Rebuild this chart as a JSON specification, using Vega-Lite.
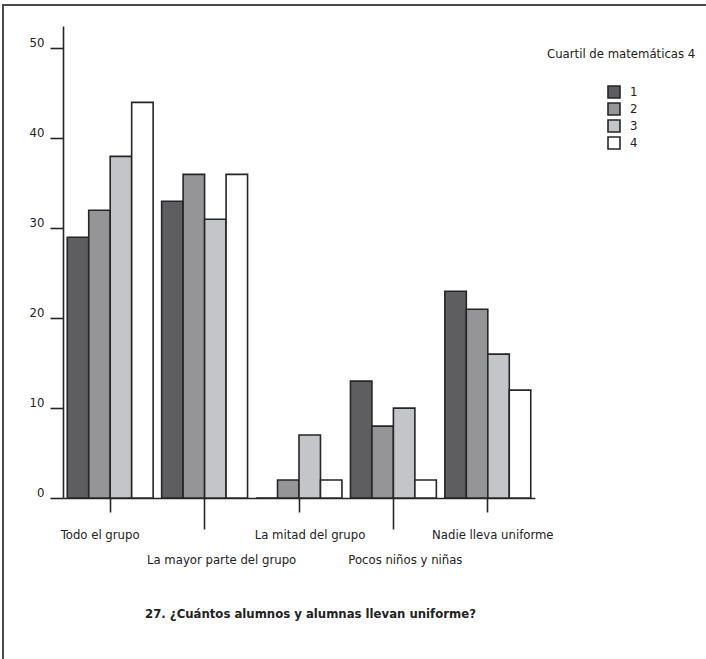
{
  "$schema": "https://vega.github.io/schema/vega-lite/v6.json",
  "width": 710,
  "height": 660,
  "autosize": {"type": "none"},
  "padding": {"left": 3, "top": 5, "right": 0, "bottom": 0},
  "background": "white",
  "config": {
    "view": {"stroke": "#4a4a4a", "strokeWidth": 2},
    "font": "DejaVu Sans Condensed, Roboto Condensed, Roboto, sans-serif"
  },
  "data": {
    "values": [
      {"grupo": "Todo el grupo", "cuartil": "1", "valor": 29},
      {"grupo": "Todo el grupo", "cuartil": "2", "valor": 32},
      {"grupo": "Todo el grupo", "cuartil": "3", "valor": 38},
      {"grupo": "Todo el grupo", "cuartil": "4", "valor": 44},
      {"grupo": "La mayor parte del grupo", "cuartil": "1", "valor": 33},
      {"grupo": "La mayor parte del grupo", "cuartil": "2", "valor": 36},
      {"grupo": "La mayor parte del grupo", "cuartil": "3", "valor": 31},
      {"grupo": "La mayor parte del grupo", "cuartil": "4", "valor": 36},
      {"grupo": "La mitad del grupo", "cuartil": "1", "valor": 0},
      {"grupo": "La mitad del grupo", "cuartil": "2", "valor": 2},
      {"grupo": "La mitad del grupo", "cuartil": "3", "valor": 7},
      {"grupo": "La mitad del grupo", "cuartil": "4", "valor": 2},
      {"grupo": "Pocos niños y niñas", "cuartil": "1", "valor": 13},
      {"grupo": "Pocos niños y niñas", "cuartil": "2", "valor": 8},
      {"grupo": "Pocos niños y niñas", "cuartil": "3", "valor": 10},
      {"grupo": "Pocos niños y niñas", "cuartil": "4", "valor": 2},
      {"grupo": "Nadie lleva uniforme", "cuartil": "1", "valor": 23},
      {"grupo": "Nadie lleva uniforme", "cuartil": "2", "valor": 21},
      {"grupo": "Nadie lleva uniforme", "cuartil": "3", "valor": 16},
      {"grupo": "Nadie lleva uniforme", "cuartil": "4", "valor": 12}
    ]
  },
  "mark": {"type": "bar", "stroke": "#262626", "strokeWidth": 1.6},
  "encoding": {
    "x": {
      "field": "grupo",
      "type": "nominal",
      "sort": null,
      "scale": {"range": [60, 532], "paddingInner": 0.09, "paddingOuter": 0.045},
      "axis": {
        "orient": "bottom",
        "offset": -167,
        "labelAngle": 0,
        "domainColor": "#262626",
        "domainWidth": 1.6,
        "tickColor": "#262626",
        "tickWidth": 1.6,
        "tickSize": {"condition": {"test": "datum.value == 'La mayor parte del grupo' || datum.value == 'Pocos niños y niñas'", "value": 31}, "value": 14},
        "labelPadding": {"condition": {"test": "datum.value == 'La mayor parte del grupo' || datum.value == 'Pocos niños y niñas'", "value": 24}, "value": 16},
        "labelOffset": {"condition": [
          {"test": "datum.value == 'Todo el grupo'", "value": -10},
          {"test": "datum.value == 'La mayor parte del grupo'", "value": 17},
          {"test": "datum.value == 'La mitad del grupo'", "value": 11},
          {"test": "datum.value == 'Pocos niños y niñas'", "value": 12}
        ], "value": 5},
        "labelBaseline": "top",
        "labelFontSize": 13,
        "labelColor": "#222",
        "labelLimit": 300,
        "title": "27. ¿Cuántos alumnos y alumnas llevan uniforme?",
        "titleFontSize": 13,
        "titleFontWeight": "bold",
        "titleColor": "#222",
        "titleX": 307,
        "titleY": 115,
        "titleAlign": "center",
        "titleBaseline": "middle"
      }
    },
    "xOffset": {
      "field": "cuartil",
      "type": "nominal",
      "sort": ["1", "2", "3", "4"],
      "scale": {"paddingInner": 0, "paddingOuter": 0}
    },
    "y": {
      "field": "valor",
      "type": "quantitative",
      "scale": {"domain": [0, 52.5], "range": [493, 21], "nice": false},
      "axis": {
        "orient": "left",
        "offset": -60,
        "values": [0, 10, 20, 30, 40, 50],
        "grid": false,
        "title": null,
        "domainColor": "#262626",
        "domainWidth": 1.6,
        "tickColor": "#262626",
        "tickWidth": 1.6,
        "tickSize": 13,
        "labelPadding": 6,
        "labelOffset": -6,
        "labelFontSize": 13,
        "labelColor": "#222"
      }
    },
    "fill": {
      "field": "cuartil",
      "type": "nominal",
      "sort": ["1", "2", "3", "4"],
      "scale": {"range": ["#5e5e60", "#959598", "#c4c5c8", "#ffffff"]},
      "legend": {
        "title": "Cuartil de matemáticas 4",
        "orient": "none",
        "legendX": 544,
        "legendY": 43,
        "titleFontSize": 13,
        "titleFontWeight": "normal",
        "titleColor": "#222",
        "titleAnchor": "start",
        "titleAlign": "left",
        "titlePadding": 24,
        "titleLimit": 300,
        "symbolType": "square",
        "symbolSize": 144,
        "symbolOffset": 60,
        "symbolStrokeColor": "#262626",
        "symbolStrokeWidth": 1.6,
        "symbolOpacity": 1,
        "labelFontSize": 13,
        "labelColor": "#222",
        "labelOffset": 9,
        "rowPadding": -5
      }
    }
  }
}
